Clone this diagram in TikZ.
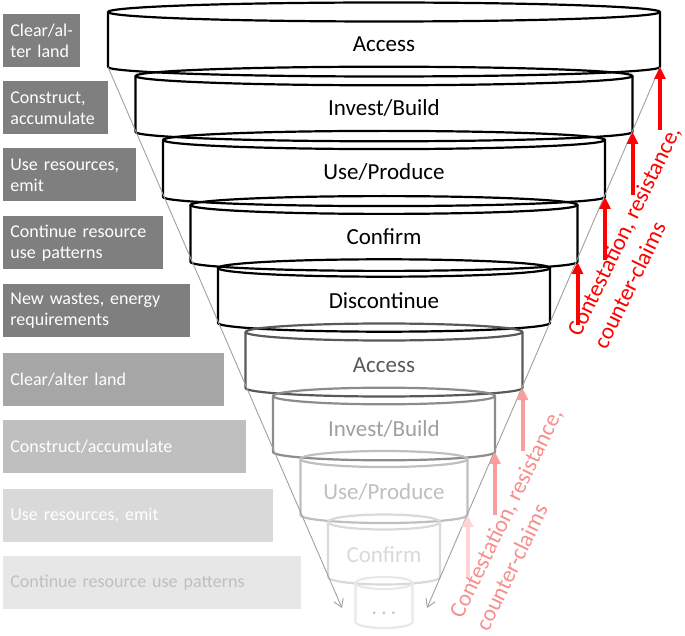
\documentclass[tikz,border=0pt]{standalone}
\usepackage{fontspec}
\setmainfont{Carlito}
\usetikzlibrary{arrows.meta}
\definecolor{boxdark}{HTML}{7F7F7F}
\definecolor{boxsix}{HTML}{A6A6A6}
\definecolor{boxseven}{HTML}{BFBFBF}
\definecolor{boxeight}{HTML}{D9D9D9}
\definecolor{boxnine}{HTML}{E7E7E7}
\definecolor{ringA}{HTML}{595959}
\definecolor{ringB}{HTML}{8C8C8C}
\definecolor{ringBt}{HTML}{A0A0A0}
\definecolor{ringC}{HTML}{BFBFBF}
\definecolor{ringD}{HTML}{D9D9D9}
\definecolor{ringE}{HTML}{E8E8E8}
\definecolor{ringEt}{HTML}{C8C8C8}
\definecolor{pinkA}{HTML}{F99D9D}
\definecolor{pinkB}{HTML}{FDD3D3}
\definecolor{pinktext}{HTML}{F78F8F}
\definecolor{funnelgray}{HTML}{A0A0A0}
\begin{document}
\begin{tikzpicture}[x=0.5pt,y=-0.5pt,
  ringline/.style={line width=1.1pt, line join=round},
  ringtext/.style={font=\fontsize{11.5}{13.8}\selectfont, anchor=base, inner sep=0pt},
  lblbox/.style={anchor=north west, inner xsep=3.5pt, inner ysep=0pt, minimum height=26.5pt,
    align=left, text=white, font=\fontsize{9}{10.5}\selectfont},
  redarrow/.style={line width=2pt, -{Triangle[length=6pt,width=5.5pt]}},
  funnel/.style={draw=funnelgray, line width=0.45pt, -{Straight Barb[length=4pt,width=5pt]}},
  claimtext/.style={rotate=64, anchor=west, align=left, inner sep=0pt,
    font=\fontsize{11.5}{14.5}\selectfont}]
\useasboundingbox (0,0) rectangle (685,636);

% left label boxes
\node[lblbox, fill=boxdark, text width=31.5pt] (b1) at (3,14) {Clear/al-\\ter land};
\node[lblbox, fill=boxdark, text width=45.5pt] (b2) at (3,81) {Construct,\\accumulate};
\node[lblbox, fill=boxdark, text width=59.5pt] (b3) at (3,148) {Use resources,\\emit};
\node[lblbox, fill=boxdark, text width=73pt] (b4) at (3,216) {Continue resource\\use patterns};
\node[lblbox, fill=boxdark, text width=86.5pt] (b5) at (3,284) {New wastes, energy\\requirements};
\node[lblbox, fill=boxsix, text width=103.5pt] (b6) at (3,353) {Clear/alter land};
\node[lblbox, fill=boxseven, text width=114.5pt] (b7) at (3,420) {Construct/accumulate};
\node[lblbox, fill=boxeight, text width=128pt] (b8) at (3,489) {Use resources, emit};
\node[lblbox, fill=boxnine, text=boxseven, text width=142pt] (b9) at (3,556) {Continue resource use patterns};

% rings
\foreach \k/\ty/\h/\ry/\col/\tcol/\txt/\tb in {
  0/12/55/9.5/black/black/Access/40,
  1/76/56/9.3/black/black/Invest\slash Build/40,
  2/140/57/9.1/black/black/Use\slash Produce/40,
  3/205/57/8.9/black/black/Confirm/40,
  4/268/55/8.7/black/black/Discontinue/40,
  5/332/56/8.5/ringA/ringA/Access/40,
  6/396/56/8.3/ringB/ringBt/Invest\slash Build/40,
  7/459/56/8.0/ringC/ringC/Use\slash Produce/40,
  8/522/55/7.5/ringD/ringD/Confirm/40,
  9/583/39/6.0/ringE/ringEt/.\,.\,./31}
{
  \pgfmathsetmacro\a{276-27.5*\k}
  \draw[ringline, draw=\col] (384,\ty) ellipse[x radius=\a, y radius=\ry];
  \draw[ringline, draw=\col] (384-\a,\ty) -- (384-\a,\ty+\h)
     arc[start angle=180, end angle=0, x radius=\a, y radius=\ry] -- (384+\a,\ty);
  \node[ringtext, text=\tcol] (t\k) at (384,\ty+\tb) {\txt};
  \coordinate (bl\k) at (384-\a,\ty+\h);
  \coordinate (br\k) at (384+\a,\ty+\h);
  \coordinate (tail\k) at (384+\a,\ty+\h+63);
}

% funnel lines
\coordinate (fl) at (342,608);
\coordinate (fr) at (427,608);
\draw[funnel] (bl0) -- (fl);
\draw[funnel] (br0) -- (fr);

% red arrows
\foreach \k in {0,1,2,3}
  \draw[redarrow, red] (tail\k) -- (br\k);
\draw[redarrow, pinkA] (tail5) -- (br5);
\draw[redarrow, pinkA] (tail6) -- (br6);
\draw[redarrow, pinkB] (tail7) -- (br7);

% claim texts
\node[claimtext, text=red] (c1) at (586,341) {Contestation, resistance,\\counter-claims};
\node[claimtext, text=pinktext] (c2) at (468,623) {Contestation, resistance,\\counter-claims};
\end{tikzpicture}
\end{document}
